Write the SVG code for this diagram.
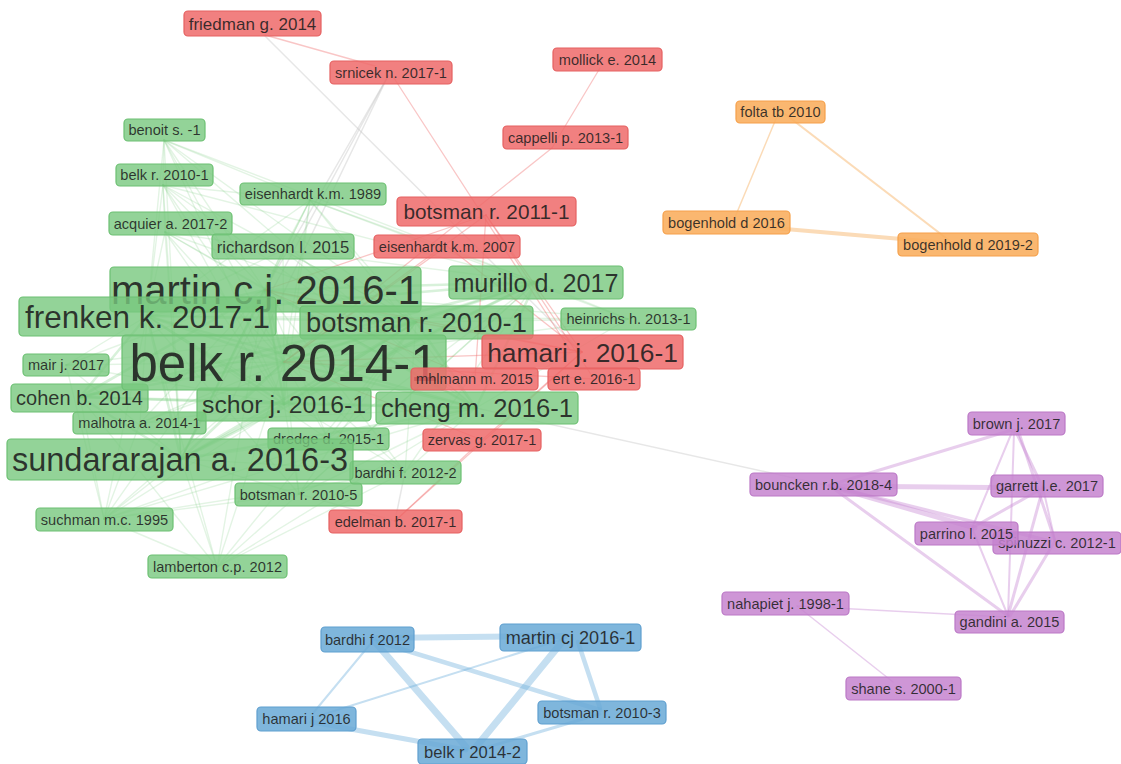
<svg xmlns="http://www.w3.org/2000/svg" width="1121" height="764" viewBox="0 0 1121 764">
<style>
.e line{stroke-linecap:round;fill:none}
.g{stroke:#7fcf84;stroke-opacity:.22;stroke-width:1.4}
.gb{stroke:#7fcf84;stroke-opacity:.3;stroke-width:2.6}
.r{stroke:#f06a6a;stroke-opacity:.38;stroke-width:1.3}
.gr{stroke:#c4c4c4;stroke-opacity:.4;stroke-width:1.5}
.o{stroke:#f8b870;stroke-opacity:.5}
.p{stroke:#c98ad3;stroke-opacity:.42}
.b{stroke:#6fb0dc;stroke-opacity:.4}
rect{rx:4;ry:4;stroke-width:1.2}
.ng rect{fill:#78c87e;fill-opacity:.8;stroke:#6cc072}
.nr rect{fill:#ee6a6a;fill-opacity:.85;stroke:#e56060}
.no rect{fill:#f9ad5c;fill-opacity:.88;stroke:#f5a04a}
.np rect{fill:#c584cf;fill-opacity:.85;stroke:#bb78c6}
.nb rect{fill:#69a9d6;fill-opacity:.85;stroke:#5f9fcf}
text{font-family:"Liberation Sans",Arial,sans-serif;fill:#1e1e1e;fill-opacity:.88;text-anchor:middle;font-size:14.6px}
</style>
<rect x="0" y="0" width="1121" height="764" fill="#ffffff" style="stroke:none;rx:0"/>
<g id="connectors" class="e">
<!-- grey inter-cluster -->
<line class="gr" x1="265" y1="36" x2="582" y2="352"/>
<line class="gr" x1="388" y1="76" x2="265" y2="290"/>
<line class="gr" x1="388" y1="76" x2="181" y2="459"/>
<line class="gr" x1="388" y1="76" x2="232" y2="400"/>
<line class="gr" x1="476" y1="408" x2="830" y2="486"/>
<line class="gr" x1="405" y1="472" x2="395" y2="521"/>
<line class="gr" x1="299" y1="494" x2="395" y2="521"/>
<!-- green big-big -->
<line class="gb" x1="265" y1="290" x2="147" y2="316"/>
<line class="gb" x1="265" y1="290" x2="416" y2="322"/>
<line class="gb" x1="265" y1="290" x2="284" y2="362"/>
<line class="gb" x1="265" y1="290" x2="181" y2="459"/>
<line class="gb" x1="265" y1="290" x2="284" y2="404"/>
<line class="gb" x1="265" y1="290" x2="476" y2="408"/>
<line class="gb" x1="265" y1="290" x2="536" y2="282"/>
<line class="gb" x1="265" y1="290" x2="80" y2="397"/>
<line class="gb" x1="147" y1="316" x2="416" y2="322"/>
<line class="gb" x1="147" y1="316" x2="284" y2="362"/>
<line class="gb" x1="147" y1="316" x2="181" y2="459"/>
<line class="gb" x1="147" y1="316" x2="284" y2="404"/>
<line class="gb" x1="147" y1="316" x2="476" y2="408"/>
<line class="gb" x1="147" y1="316" x2="536" y2="282"/>
<line class="gb" x1="147" y1="316" x2="80" y2="397"/>
<line class="gb" x1="416" y1="322" x2="284" y2="362"/>
<line class="gb" x1="416" y1="322" x2="181" y2="459"/>
<line class="gb" x1="416" y1="322" x2="284" y2="404"/>
<line class="gb" x1="416" y1="322" x2="476" y2="408"/>
<line class="gb" x1="416" y1="322" x2="536" y2="282"/>
<line class="gb" x1="416" y1="322" x2="80" y2="397"/>
<line class="gb" x1="284" y1="362" x2="181" y2="459"/>
<line class="gb" x1="284" y1="362" x2="284" y2="404"/>
<line class="gb" x1="284" y1="362" x2="476" y2="408"/>
<line class="gb" x1="284" y1="362" x2="536" y2="282"/>
<line class="gb" x1="284" y1="362" x2="80" y2="397"/>
<line class="gb" x1="181" y1="459" x2="284" y2="404"/>
<line class="gb" x1="181" y1="459" x2="476" y2="408"/>
<line class="gb" x1="181" y1="459" x2="536" y2="282"/>
<line class="gb" x1="181" y1="459" x2="80" y2="397"/>
<line class="gb" x1="284" y1="404" x2="476" y2="408"/>
<line class="gb" x1="284" y1="404" x2="536" y2="282"/>
<line class="gb" x1="284" y1="404" x2="80" y2="397"/>
<line class="gb" x1="476" y1="408" x2="536" y2="282"/>
<line class="gb" x1="476" y1="408" x2="80" y2="397"/>
<line class="gb" x1="536" y1="282" x2="80" y2="397"/>
<!-- green small-big -->
<line class="g" x1="164" y1="140" x2="265" y2="290"/>
<line class="g" x1="164" y1="140" x2="147" y2="316"/>
<line class="g" x1="164" y1="140" x2="416" y2="322"/>
<line class="g" x1="164" y1="140" x2="284" y2="362"/>
<line class="g" x1="164" y1="140" x2="181" y2="459"/>
<line class="g" x1="164" y1="140" x2="284" y2="404"/>
<line class="g" x1="164" y1="140" x2="476" y2="408"/>
<line class="g" x1="164" y1="140" x2="536" y2="282"/>
<line class="g" x1="163" y1="185" x2="265" y2="290"/>
<line class="g" x1="163" y1="185" x2="147" y2="316"/>
<line class="g" x1="163" y1="185" x2="416" y2="322"/>
<line class="g" x1="163" y1="185" x2="284" y2="362"/>
<line class="g" x1="163" y1="185" x2="181" y2="459"/>
<line class="g" x1="163" y1="185" x2="284" y2="404"/>
<line class="g" x1="163" y1="185" x2="476" y2="408"/>
<line class="g" x1="163" y1="185" x2="536" y2="282"/>
<line class="g" x1="310" y1="200" x2="265" y2="290"/>
<line class="g" x1="310" y1="200" x2="147" y2="316"/>
<line class="g" x1="310" y1="200" x2="416" y2="322"/>
<line class="g" x1="310" y1="200" x2="284" y2="362"/>
<line class="g" x1="310" y1="200" x2="181" y2="459"/>
<line class="g" x1="310" y1="200" x2="284" y2="404"/>
<line class="g" x1="310" y1="200" x2="476" y2="408"/>
<line class="g" x1="310" y1="200" x2="536" y2="282"/>
<line class="g" x1="165" y1="232" x2="265" y2="290"/>
<line class="g" x1="165" y1="232" x2="147" y2="316"/>
<line class="g" x1="165" y1="232" x2="416" y2="322"/>
<line class="g" x1="165" y1="232" x2="284" y2="362"/>
<line class="g" x1="165" y1="232" x2="181" y2="459"/>
<line class="g" x1="165" y1="232" x2="284" y2="404"/>
<line class="g" x1="165" y1="232" x2="476" y2="408"/>
<line class="g" x1="283" y1="250" x2="265" y2="290"/>
<line class="g" x1="283" y1="250" x2="147" y2="316"/>
<line class="g" x1="283" y1="250" x2="416" y2="322"/>
<line class="g" x1="283" y1="250" x2="284" y2="362"/>
<line class="g" x1="283" y1="250" x2="181" y2="459"/>
<line class="g" x1="283" y1="250" x2="476" y2="408"/>
<line class="g" x1="283" y1="250" x2="536" y2="282"/>
<line class="g" x1="628" y1="319" x2="265" y2="290"/>
<line class="g" x1="628" y1="319" x2="416" y2="322"/>
<line class="g" x1="628" y1="319" x2="284" y2="362"/>
<line class="g" x1="628" y1="319" x2="476" y2="408"/>
<line class="g" x1="628" y1="319" x2="536" y2="282"/>
<line class="g" x1="628" y1="319" x2="147" y2="316"/>
<line class="g" x1="66" y1="365" x2="265" y2="290"/>
<line class="g" x1="66" y1="365" x2="147" y2="316"/>
<line class="g" x1="66" y1="365" x2="416" y2="322"/>
<line class="g" x1="66" y1="365" x2="284" y2="362"/>
<line class="g" x1="66" y1="365" x2="181" y2="459"/>
<line class="g" x1="66" y1="365" x2="284" y2="404"/>
<line class="g" x1="140" y1="423" x2="265" y2="290"/>
<line class="g" x1="140" y1="423" x2="147" y2="316"/>
<line class="g" x1="140" y1="423" x2="416" y2="322"/>
<line class="g" x1="140" y1="423" x2="284" y2="362"/>
<line class="g" x1="140" y1="423" x2="476" y2="408"/>
<line class="g" x1="140" y1="423" x2="284" y2="404"/>
<line class="g" x1="328" y1="439" x2="265" y2="290"/>
<line class="g" x1="328" y1="439" x2="147" y2="316"/>
<line class="g" x1="328" y1="439" x2="416" y2="322"/>
<line class="g" x1="328" y1="439" x2="284" y2="362"/>
<line class="g" x1="328" y1="439" x2="181" y2="459"/>
<line class="g" x1="328" y1="439" x2="476" y2="408"/>
<line class="g" x1="328" y1="439" x2="536" y2="282"/>
<line class="g" x1="405" y1="472" x2="265" y2="290"/>
<line class="g" x1="405" y1="472" x2="147" y2="316"/>
<line class="g" x1="405" y1="472" x2="416" y2="322"/>
<line class="g" x1="405" y1="472" x2="284" y2="362"/>
<line class="g" x1="405" y1="472" x2="181" y2="459"/>
<line class="g" x1="405" y1="472" x2="476" y2="408"/>
<line class="g" x1="405" y1="472" x2="536" y2="282"/>
<line class="g" x1="299" y1="494" x2="265" y2="290"/>
<line class="g" x1="299" y1="494" x2="147" y2="316"/>
<line class="g" x1="299" y1="494" x2="416" y2="322"/>
<line class="g" x1="299" y1="494" x2="284" y2="362"/>
<line class="g" x1="299" y1="494" x2="181" y2="459"/>
<line class="g" x1="299" y1="494" x2="476" y2="408"/>
<line class="g" x1="299" y1="494" x2="536" y2="282"/>
<line class="g" x1="104" y1="519" x2="265" y2="290"/>
<line class="g" x1="104" y1="519" x2="147" y2="316"/>
<line class="g" x1="104" y1="519" x2="416" y2="322"/>
<line class="g" x1="104" y1="519" x2="284" y2="362"/>
<line class="g" x1="104" y1="519" x2="181" y2="459"/>
<line class="g" x1="104" y1="519" x2="476" y2="408"/>
<line class="g" x1="104" y1="519" x2="80" y2="397"/>
<line class="g" x1="217" y1="567" x2="265" y2="290"/>
<line class="g" x1="217" y1="567" x2="147" y2="316"/>
<line class="g" x1="217" y1="567" x2="416" y2="322"/>
<line class="g" x1="217" y1="567" x2="284" y2="362"/>
<line class="g" x1="217" y1="567" x2="181" y2="459"/>
<line class="g" x1="217" y1="567" x2="476" y2="408"/>
<line class="g" x1="217" y1="567" x2="536" y2="282"/>
<line class="g" x1="217" y1="567" x2="80" y2="397"/>
<!-- green small-small -->
<line class="g" x1="164" y1="140" x2="163" y2="185"/>
<line class="g" x1="163" y1="185" x2="165" y2="232"/>
<line class="g" x1="310" y1="200" x2="283" y2="250"/>
<line class="g" x1="164" y1="140" x2="310" y2="200"/>
<line class="g" x1="163" y1="185" x2="310" y2="200"/>
<line class="g" x1="104" y1="519" x2="217" y2="567"/>
<line class="g" x1="140" y1="423" x2="104" y2="519"/>
<line class="g" x1="66" y1="365" x2="104" y2="519"/>
<line class="g" x1="165" y1="232" x2="283" y2="250"/>
<line class="g" x1="310" y1="200" x2="628" y2="319"/>
<line class="g" x1="104" y1="519" x2="328" y2="439"/>
<line class="g" x1="104" y1="519" x2="405" y2="472"/>
<line class="g" x1="217" y1="567" x2="405" y2="472"/>
<line class="g" x1="299" y1="494" x2="104" y2="519"/>
<!-- red -->
<line class="r" x1="265" y1="35" x2="375" y2="66"/>
<line class="r" x1="392" y1="75" x2="570" y2="350"/>
<line class="r" x1="600" y1="68" x2="552" y2="148"/>
<line class="r" x1="552" y1="148" x2="284" y2="362"/>
<line class="r" x1="486" y1="215" x2="582" y2="352"/>
<line class="r" x1="486" y1="215" x2="284" y2="362"/>
<line class="r" x1="486" y1="215" x2="265" y2="290"/>
<line class="r" x1="447" y1="246" x2="582" y2="352"/>
<line class="r" x1="447" y1="246" x2="284" y2="362"/>
<line class="r" x1="582" y1="352" x2="284" y2="362"/>
<line class="r" x1="582" y1="352" x2="265" y2="290"/>
<line class="r" x1="582" y1="352" x2="416" y2="322"/>
<line class="r" x1="475" y1="379" x2="486" y2="215"/>
<line class="r" x1="594" y1="379" x2="486" y2="215"/>
<line class="r" x1="482" y1="440" x2="395" y2="521"/>
<line class="r" x1="395" y1="521" x2="582" y2="352"/>
<line class="r" x1="482" y1="440" x2="582" y2="352"/>
<line class="r" x1="594" y1="379" x2="284" y2="362"/>
<line class="r" x1="475" y1="379" x2="265" y2="290"/>
<line class="r" x1="482" y1="440" x2="284" y2="362"/>
<!-- orange -->
<line class="o" x1="778" y1="114" x2="733" y2="222" stroke-width="1.5"/>
<line class="o" x1="785" y1="114" x2="955" y2="245" stroke-width="2.2"/>
<line class="o" x1="740" y1="225" x2="960" y2="244" stroke-width="4"/>
<!-- purple -->
<line class="p" x1="830" y1="485" x2="1012" y2="430" stroke-width="3"/>
<line class="p" x1="830" y1="486" x2="1043" y2="488" stroke-width="5"/>
<line class="p" x1="830" y1="486" x2="975" y2="528" stroke-width="5"/>
<line class="p" x1="830" y1="486" x2="1050" y2="541" stroke-width="3.5"/>
<line class="p" x1="830" y1="486" x2="1008" y2="616" stroke-width="3"/>
<line class="p" x1="1015" y1="430" x2="1043" y2="488" stroke-width="3"/>
<line class="p" x1="1018" y1="430" x2="1055" y2="541" stroke-width="3"/>
<line class="p" x1="1012" y1="432" x2="972" y2="528" stroke-width="2"/>
<line class="p" x1="1014" y1="432" x2="1008" y2="616" stroke-width="2"/>
<line class="p" x1="1043" y1="488" x2="972" y2="528" stroke-width="3"/>
<line class="p" x1="1043" y1="488" x2="1008" y2="616" stroke-width="3"/>
<line class="p" x1="1043" y1="488" x2="1055" y2="541" stroke-width="2"/>
<line class="p" x1="972" y1="528" x2="1008" y2="616" stroke-width="2"/>
<line class="p" x1="1055" y1="541" x2="1010" y2="616" stroke-width="3"/>
<line class="p" x1="797" y1="606" x2="1005" y2="617" stroke-width="1.5"/>
<line class="p" x1="797" y1="606" x2="893" y2="682" stroke-width="1.5"/>
<!-- blue -->
<line class="b" x1="375" y1="638" x2="565" y2="636" stroke-width="6"/>
<line class="b" x1="372" y1="642" x2="314" y2="712" stroke-width="2"/>
<line class="b" x1="375" y1="642" x2="466" y2="747" stroke-width="7"/>
<line class="b" x1="378" y1="642" x2="600" y2="710" stroke-width="4.5"/>
<line class="b" x1="560" y1="640" x2="318" y2="716" stroke-width="2"/>
<line class="b" x1="562" y1="642" x2="476" y2="747" stroke-width="7"/>
<line class="b" x1="578" y1="642" x2="600" y2="708" stroke-width="4.5"/>
<line class="b" x1="312" y1="722" x2="466" y2="750" stroke-width="5"/>
<line class="b" x1="600" y1="714" x2="478" y2="750" stroke-width="3"/>
</g>
<!-- orange nodes -->
<g id="folta" class="no"><rect x="736" y="101" width="89" height="22"/><text x="780.5" y="117.3">folta tb 2010</text></g>
<g id="bogenhold2016" class="no"><rect x="663" y="211" width="127" height="23"/><text x="726.5" y="227.8">bogenhold d 2016</text></g>
<g id="bogenhold2019" class="no"><rect x="898" y="233" width="140" height="23"/><text x="968" y="249.8">bogenhold d 2019-2</text></g>
<!-- purple nodes -->
<g id="brown" class="np"><rect x="968" y="412" width="97" height="23"/><text x="1016.5" y="428.8">brown j. 2017</text></g>
<g id="bouncken" class="np"><rect x="750" y="473" width="147" height="23"/><text x="823.5" y="489.8">bouncken r.b. 2018-4</text></g>
<g id="garrett" class="np"><rect x="991" y="475" width="112" height="22"/><text x="1047" y="491.3">garrett l.e. 2017</text></g>
<g id="spinuzzi" class="np"><rect x="993" y="532" width="128" height="22"/><text x="1057" y="548.3">spinuzzi c. 2012-1</text></g>
<g id="parrino" class="np"><rect x="915" y="522" width="103" height="23"/><text x="966.5" y="538.8">parrino l. 2015</text></g>
<g id="nahapiet" class="np"><rect x="722" y="592" width="127" height="23"/><text x="785.5" y="608.8">nahapiet j. 1998-1</text></g>
<g id="gandini" class="np"><rect x="955" y="611" width="109" height="22"/><text x="1009.5" y="627.3">gandini a. 2015</text></g>
<g id="shane" class="np"><rect x="846" y="677" width="115" height="23"/><text x="903.5" y="693.8">shane s. 2000-1</text></g>
<!-- blue nodes -->
<g id="bardhi2012" class="nb"><rect x="321" y="627" width="93" height="25"/><text x="367.5" y="644.8">bardhi f 2012</text></g>
<g id="martincj" class="nb"><rect x="500" y="624" width="141" height="27"/><text x="570.5" y="644" style="font-size:18.1px">martin cj 2016-1</text></g>
<g id="hamarij2016" class="nb"><rect x="257" y="707" width="99" height="24"/><text x="306.5" y="724.3">hamari j 2016</text></g>
<g id="botsman2010-3" class="nb"><rect x="538" y="701" width="128" height="23"/><text x="602" y="717.8">botsman r. 2010-3</text></g>
<g id="belk2014-2" class="nb"><rect x="418" y="739" width="109" height="25"/><text x="472.5" y="757.5" style="font-size:16.6px">belk r 2014-2</text></g>
<!-- red small nodes -->
<g id="friedman" class="nr"><rect x="184" y="11" width="137" height="25"/><text x="252.5" y="29.6" style="font-size:17px">friedman g. 2014</text></g>
<g id="srnicek" class="nr"><rect x="330" y="61" width="122" height="23"/><text x="391" y="77.8">srnicek n. 2017-1</text></g>
<g id="mollick" class="nr"><rect x="553" y="48" width="109" height="23"/><text x="607.5" y="64.8">mollick e. 2014</text></g>
<g id="cappelli" class="nr"><rect x="503" y="126" width="125" height="23"/><text x="565.5" y="142.8">cappelli p. 2013-1</text></g>
<g id="edelman" class="nr"><rect x="329" y="510" width="133" height="23"/><text x="395.5" y="526.8">edelman b. 2017-1</text></g>
<!-- green small nodes -->
<g id="benoit" class="ng"><rect x="124" y="119" width="81" height="22"/><text x="164.5" y="135.3">benoit s. -1</text></g>
<g id="belk2010" class="ng"><rect x="116" y="164" width="97" height="22"/><text x="164.5" y="180.3">belk r. 2010-1</text></g>
<g id="eisenhardt1989" class="ng"><rect x="240" y="183" width="146" height="22"/><text x="313" y="199.3">eisenhardt k.m. 1989</text></g>
<g id="acquier" class="ng"><rect x="109" y="212" width="123" height="23"/><text x="170.5" y="228.8">acquier a. 2017-2</text></g>
<g id="richardson" class="ng"><rect x="212" y="234" width="142" height="25"/><text x="283" y="252.5" style="font-size:16.7px">richardson l. 2015</text></g>
<g id="eisenhardt2007" class="nr"><rect x="374" y="235" width="146" height="23"/><text x="447" y="251.8">eisenhardt k.m. 2007</text></g>
<g id="botsman2011" class="nr"><rect x="397" y="197" width="179" height="29"/><text x="486.5" y="219" style="font-size:20.8px">botsman r. 2011-1</text></g>
<g id="heinrichs" class="ng"><rect x="561" y="308" width="135" height="22"/><text x="628.5" y="324.3">heinrichs h. 2013-1</text></g>
<g id="murillo" class="ng"><rect x="449" y="266" width="174" height="33"/><text x="536" y="291.6" style="font-size:25.2px">murillo d. 2017</text></g>
<g id="lamberton" class="ng"><rect x="148" y="555" width="139" height="23"/><text x="217.5" y="571.8">lamberton c.p. 2012</text></g>
<g id="suchman" class="ng"><rect x="36" y="508" width="137" height="23"/><text x="104.5" y="524.8">suchman m.c. 1995</text></g>
<g id="botsman2010-5" class="ng"><rect x="235" y="483" width="127" height="23"/><text x="298.5" y="499.8">botsman r. 2010-5</text></g>
<g id="bardhi2012-2" class="ng"><rect x="350" y="461" width="111" height="23"/><text x="405.5" y="477.8">bardhi f. 2012-2</text></g>
<g id="zervas" class="nr"><rect x="423" y="429" width="118" height="22"/><text x="482" y="445.3">zervas g. 2017-1</text></g>
<g id="mair" class="ng"><rect x="23" y="354" width="86" height="22"/><text x="66" y="370.3">mair j. 2017</text></g>
<g id="malhotra" class="ng"><rect x="73" y="412" width="133" height="22"/><text x="139.5" y="428.3">malhotra a. 2014-1</text></g>
<!-- green large nodes -->
<g id="cohen" class="ng"><rect x="11" y="384" width="137" height="28"/><text x="79.5" y="405.2" style="font-size:20px">cohen b. 2014</text></g>
<g id="martin" class="ng"><rect x="110" y="267" width="311" height="45"/><text x="265.5" y="303.9" style="font-size:40px">martin c.j. 2016-1</text></g>
<g id="frenken" class="ng"><rect x="19" y="297" width="257" height="39"/><text x="147.5" y="327.8" style="font-size:31.5px">frenken k. 2017-1</text></g>
<g id="botsman2010-1" class="ng"><rect x="300" y="306" width="233" height="33"/><text x="416.5" y="332.4" style="font-size:27.4px">botsman r. 2010-1</text></g>
<g id="dredge" class="ng"><rect x="268" y="428" width="121" height="22"/><text x="328.5" y="444.3">dredge d. 2015-1</text></g>
<g id="sundararajan" class="ng"><rect x="7" y="439" width="346" height="41"/><text x="180" y="471.2" style="font-size:32.5px">sundararajan a. 2016-3</text></g>
<g id="schor" class="ng"><rect x="197" y="388" width="174" height="33"/><text x="284" y="413.4" style="font-size:24.8px">schor j. 2016-1</text></g>
<g id="cheng" class="ng"><rect x="376" y="392" width="202" height="32"/><text x="477" y="417.2" style="font-size:25.6px">cheng m. 2016-1</text></g>
<g id="belk2014" class="ng"><rect x="122" y="335" width="324" height="55"/><text x="284" y="380.9" style="font-size:51px">belk r. 2014-1</text></g>
<g id="hamari2016" class="nr"><rect x="482" y="335" width="201" height="34"/><text x="582.5" y="361.5" style="font-size:26.4px">hamari j. 2016-1</text></g>
<g id="mhlmann" class="nr"><rect x="411" y="368" width="127" height="22"/><text x="474.5" y="384.3">mhlmann m. 2015</text></g>
<g id="ert" class="nr"><rect x="548" y="368" width="92" height="22"/><text x="594" y="384.3">ert e. 2016-1</text></g>
</svg>
